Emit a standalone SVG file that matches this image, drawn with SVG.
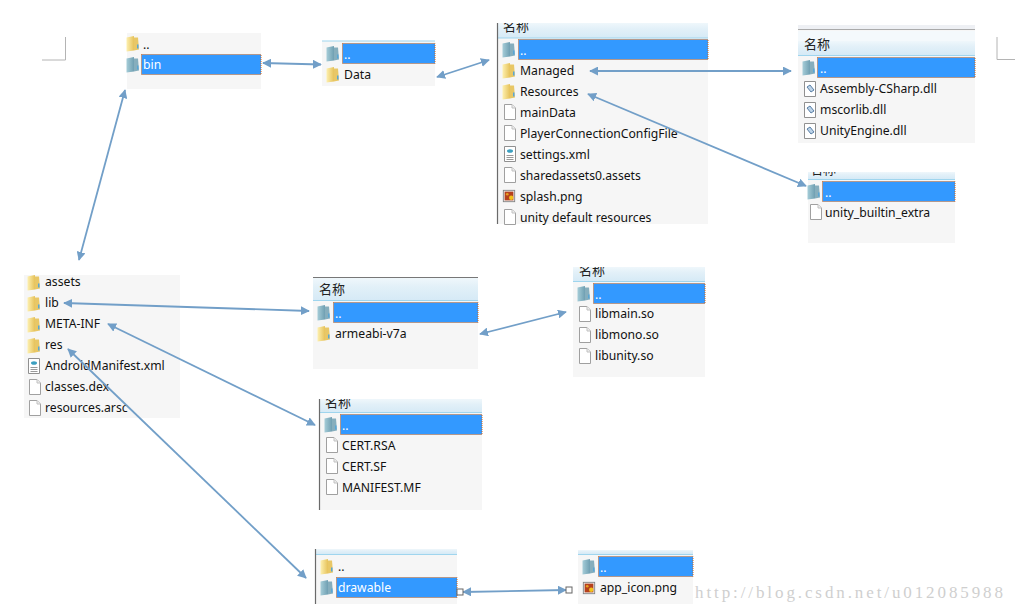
<svg xmlns="http://www.w3.org/2000/svg" width="1015" height="612" viewBox="0 0 1015 612">
<style>
.p{fill:#f6f6f6}
.h{fill:#3399ff;stroke:#d2691e;stroke-width:1;stroke-dasharray:1 1}
.hd{fill:url(#hg)}
.hl{stroke:#9fd5ee;stroke-width:1;fill:none}
.e{stroke:#6a6a6a;stroke-width:1.2;fill:none}
.t{font-family:"Noto Sans","Liberation Sans",sans-serif;font-size:12.2px;fill:#111}
.w{font-family:"Noto Sans","Liberation Sans",sans-serif;font-size:12.2px;fill:#fff}
.c{font-family:"Noto Sans CJK SC",sans-serif;font-size:13px;fill:#222}
.a{stroke:#729fc8;stroke-width:1.8;fill:none;marker-start:url(#ah);marker-end:url(#ah)}
.m{stroke:#b4b4b4;stroke-width:1;fill:none}
</style>
<defs>
<linearGradient id="hg" x1="0" x2="0" y1="0" y2="1"><stop offset="0" stop-color="#eff7fb"/><stop offset=".4" stop-color="#e2f0f8"/><stop offset="1" stop-color="#d6eaf6"/></linearGradient>
<linearGradient id="fy" x1="0" x2="1" y1="0" y2="0"><stop offset="0" stop-color="#fdf0b0"/><stop offset="1" stop-color="#e6c25a"/></linearGradient>
<linearGradient id="fb" x1="0" x2="1" y1="0" y2="0"><stop offset="0" stop-color="#a6cdd8"/><stop offset="1" stop-color="#6f9fb2"/></linearGradient>
<clipPath id="c1"><rect x="497" y="23" width="211" height="15"/></clipPath>
<clipPath id="c2"><rect x="573" y="267" width="132" height="14"/></clipPath>
<clipPath id="c3"><rect x="319" y="399" width="163" height="13"/></clipPath>
<clipPath id="c4"><rect x="808" y="172" width="147" height="7"/></clipPath>
<marker id="ah" viewBox="0 0 10 10" refX="9" refY="5" markerWidth="5" markerHeight="5" orient="auto-start-reverse"><path d="M0 0L10 5L0 10Z" fill="#729fc8"/></marker>
<symbol id="fo" viewBox="0 0 14 16" width="14" height="17"><path d="M.5 2L8 .5V15L.5 16Z" fill="url(#fy)"/><path d="M8 2H12L13 14L8 15Z" fill="#e8c766"/><rect x="11" y="9" width="1.5" height="4" fill="#58a6d6"/></symbol>
<symbol id="fu" viewBox="0 0 14 16" width="14" height="17"><path d="M.5 2L8 .5V15L.5 16Z" fill="url(#fb)"/><path d="M8 2H12L13 14L8 15Z" fill="#86aebd"/><rect x="11" y="9" width="1.5" height="4" fill="#58a6d6"/></symbol>
<symbol id="fi" viewBox="0 0 14 16" width="14" height="16"><path d="M1.500 .5H9L12.500 4V15.500H1.500Z" fill="#fff" stroke="#a0a0a0"/><path d="M9 .5V4H12.500" fill="#eee" stroke="#c0c0c0"/></symbol>
<symbol id="xm" viewBox="0 0 14 16" width="14" height="16"><path d="M1.500 .5H12.500V15.500H1.500Z" fill="#fff" stroke="#909090"/><ellipse cx="7" cy="5" rx="3" ry="1.800" fill="#3c9fc0"/><path d="M3.500 9.500H10.500M3.500 11.500H10.500M3.500 13.500H10.500" stroke="#999"/></symbol>
<symbol id="dl" viewBox="0 0 14 16" width="14" height="16"><path d="M1.500 .5H12.500V15.500H1.500Z" fill="#fff" stroke="#909090"/><path d="M4 6L7 4L11 9L8 11Z" fill="#bcd3e8" stroke="#5a7fa5"/></symbol>
<symbol id="pn" viewBox="0 0 14 16" width="14" height="14"><rect x=".5" y="1.500" width="13" height="13" fill="#eee" stroke="#808080"/><rect x="2" y="3" width="10" height="10" fill="#b5401c"/><circle cx="9.500" cy="10" r="2.500" fill="#f2c21a"/><circle cx="5" cy="6" r="1.500" fill="#e8a020"/></symbol>
</defs>
<rect width="1015" height="612" fill="#fff"/>
<g id="crop-marks"><path class="m" d="M65.500 37V60H42"/><path class="m" d="M997 37V59.500H1015"/></g>
<g id="node-bin">
<rect class="p" x="127" y="33" width="134" height="56"/>
<rect class="h" x="141.500" y="54.500" width="119.500" height="20"/>
<use href="#fo" x="126" y="35"/><use href="#fu" x="126" y="56"/>
<text class="t" x="143" y="49">..</text><text class="w" x="143" y="69">bin</text>
</g>
<g id="node-data">
<rect class="p" x="322" y="41" width="113" height="45"/>
<path class="hl" d="M322 41H435"/>
<rect class="h" x="342.500" y="43.500" width="92.500" height="20"/>
<use href="#fu" x="326" y="45"/><use href="#fo" x="326" y="66"/>
<text class="w" x="344" y="59">..</text><text class="t" x="344" y="79">Data</text>
</g>
<g id="node-managed">
<rect class="p" x="497" y="23" width="211" height="201"/>
<rect class="hd" x="497" y="23" width="211" height="15"/><path class="hl" d="M497 38H708"/>
<path class="e" d="M497.500 23V224"/>
<text class="c" x="503" y="31" clip-path="url(#c1)">名称</text>
<rect class="h" x="518.500" y="39.500" width="189.500" height="20"/>
<use href="#fu" x="502" y="41"/><use href="#fo" x="502" y="62"/><use href="#fo" x="502" y="83"/>
<use href="#fi" x="503" y="104"/><use href="#fi" x="503" y="125"/><use href="#xm" x="503" y="146"/><use href="#fi" x="503" y="167"/><use href="#pn" x="502" y="189"/><use href="#fi" x="503" y="209"/>
<text class="w" x="520" y="55">..</text>
<text class="t" x="520" y="75">Managed</text><text class="t" x="520" y="96">Resources</text><text class="t" x="520" y="117">mainData</text><text class="t" x="520" y="138">PlayerConnectionConfigFile</text><text class="t" x="520" y="159">settings.xml</text><text class="t" x="520" y="180">sharedassets0.assets</text><text class="t" x="520" y="201">splash.png</text><text class="t" x="520" y="222">unity default resources</text>
</g>
<g id="node-dll">
<rect class="p" x="798" y="25" width="177" height="118"/>
<rect fill="#eef0f4" x="798" y="25" width="177" height="4"/><path stroke="#aaa" fill="none" d="M798 29.500H975"/>
<rect fill="#f4f9fc" x="798" y="31" width="177" height="10"/><rect class="hd" x="798" y="41" width="177" height="14"/><path class="hl" d="M798 55.500H975"/>
<text class="c" x="804" y="49">名称</text>
<rect class="h" x="817.500" y="57.500" width="157.500" height="20"/>
<use href="#fu" x="802" y="59"/><use href="#dl" x="803" y="81"/><use href="#dl" x="803" y="102"/><use href="#dl" x="803" y="123"/>
<text class="w" x="820" y="73">..</text>
<text class="t" x="820" y="93">Assembly-CSharp.dll</text><text class="t" x="820" y="114">mscorlib.dll</text><text class="t" x="820" y="135">UnityEngine.dll</text>
</g>
<g id="node-builtin">
<rect class="p" x="808" y="172" width="147" height="71"/>
<rect class="hd" x="808" y="172" width="147" height="7"/><path class="hl" d="M808 179.500H955"/>
<text class="c" x="810" y="174" clip-path="url(#c4)">名称</text>
<rect class="h" x="822.500" y="181.500" width="132.500" height="20"/>
<use href="#fu" x="807" y="183"/><use href="#fi" x="809" y="204"/>
<text class="w" x="825" y="197">..</text><text class="t" x="825" y="217">unity_builtin_extra</text>
</g>
<g id="node-root">
<rect class="p" x="24" y="275" width="156" height="143"/>
<use href="#fo" x="27" y="274"/><use href="#fo" x="27" y="295"/><use href="#fo" x="27" y="316"/><use href="#fo" x="27" y="337"/><use href="#xm" x="27" y="358"/><use href="#fi" x="28" y="379"/><use href="#fi" x="28" y="400"/>
<text class="t" x="45" y="286">assets</text><text class="t" x="45" y="307">lib</text><text class="t" x="45" y="328">META-INF</text><text class="t" x="45" y="349">res</text><text class="t" x="45" y="370">AndroidManifest.xml</text><text class="t" x="45" y="391">classes.dex</text><text class="t" x="45" y="412">resources.arsc</text>
</g>
<g id="node-armeabi">
<rect class="p" x="313" y="277" width="165" height="92"/>
<rect class="hd" x="313" y="278" width="165" height="22"/><path class="hl" d="M313 300.500H478"/>
<path stroke="#777" fill="none" d="M313 277.500H478"/>
<text class="c" x="319" y="294">名称</text>
<rect class="h" x="333.500" y="302.500" width="144.500" height="20"/>
<use href="#fu" x="317" y="304"/><use href="#fo" x="317" y="325"/>
<text class="w" x="335" y="318">..</text><text class="t" x="335" y="338">armeabi-v7a</text>
</g>
<g id="node-lib">
<rect class="p" x="573" y="267" width="132" height="110"/>
<rect class="hd" x="573" y="267" width="132" height="14"/><path class="hl" d="M573 281.500H705"/>
<text class="c" x="579" y="275" clip-path="url(#c2)">名称</text>
<rect class="h" x="593.500" y="283.500" width="111.500" height="20"/>
<use href="#fu" x="577" y="285"/><use href="#fi" x="578" y="306"/><use href="#fi" x="578" y="327"/><use href="#fi" x="578" y="348"/>
<text class="w" x="595" y="299">..</text><text class="t" x="595" y="318">libmain.so</text><text class="t" x="595" y="339">libmono.so</text><text class="t" x="595" y="360">libunity.so</text>
</g>
<g id="node-cert">
<rect class="p" x="319" y="399" width="163" height="111"/>
<rect class="hd" x="319" y="399" width="163" height="13"/><path class="hl" d="M319 412.500H482"/>
<path class="e" d="M319.500 399V510"/>
<text class="c" x="325" y="407" clip-path="url(#c3)">名称</text>
<rect class="h" x="340.500" y="414.500" width="141.500" height="20"/>
<use href="#fu" x="324" y="416"/><use href="#fi" x="325" y="437"/><use href="#fi" x="325" y="458"/><use href="#fi" x="325" y="479"/>
<text class="w" x="342" y="430">..</text><text class="t" x="342" y="450">CERT.RSA</text><text class="t" x="342" y="471">CERT.SF</text><text class="t" x="342" y="492">MANIFEST.MF</text>
</g>
<g id="node-drawable">
<rect class="p" x="315" y="549" width="142" height="55"/>
<rect class="hd" x="315" y="549" width="142" height="5"/><path class="hl" d="M315 554.500H457"/>
<path class="e" d="M315.500 549V604"/>
<rect class="h" x="336.500" y="577.500" width="120.500" height="20"/>
<use href="#fo" x="320" y="558"/><use href="#fu" x="320" y="579"/>
<text class="t" x="338" y="571">..</text><text class="w" x="338" y="592">drawable</text>
</g>
<g id="node-appicon">
<rect class="p" x="578" y="550" width="115" height="54"/>
<rect class="hd" x="578" y="550" width="115" height="4"/><path class="hl" d="M578 554.500H693"/>
<rect class="h" x="598.500" y="556.500" width="94.500" height="20"/>
<use href="#fu" x="582" y="558"/><use href="#pn" x="582" y="581"/>
<text class="w" x="600" y="572">..</text><text class="t" x="600" y="592">app_icon.png</text>
</g>
<g id="connectors">
<path class="a" d="M263 63L321 64.500"/>
<path class="a" d="M437 77L489 60"/>
<path class="a" d="M590 71H791"/>
<path class="a" d="M588 94L806 186"/>
<path class="a" d="M79 260L125 90"/>
<path class="a" d="M64 303L309 311"/>
<path class="a" d="M480 334L566 312"/>
<path class="a" d="M108 324L315 425"/>
<path class="a" d="M68 349L306 578"/>
<path class="a" d="M463 592L566 590"/>
<rect x="457" y="589" width="6" height="6" fill="#fff" stroke="#666"/>
<rect x="566" y="587" width="6" height="6" fill="#fff" stroke="#666"/>
</g>
<text x="695" y="598" font-family="'Liberation Serif',serif" font-size="17" fill="#cfcfcf" textLength="308" lengthAdjust="spacing">http://blog.csdn.net/u012085988</text>
</svg>
